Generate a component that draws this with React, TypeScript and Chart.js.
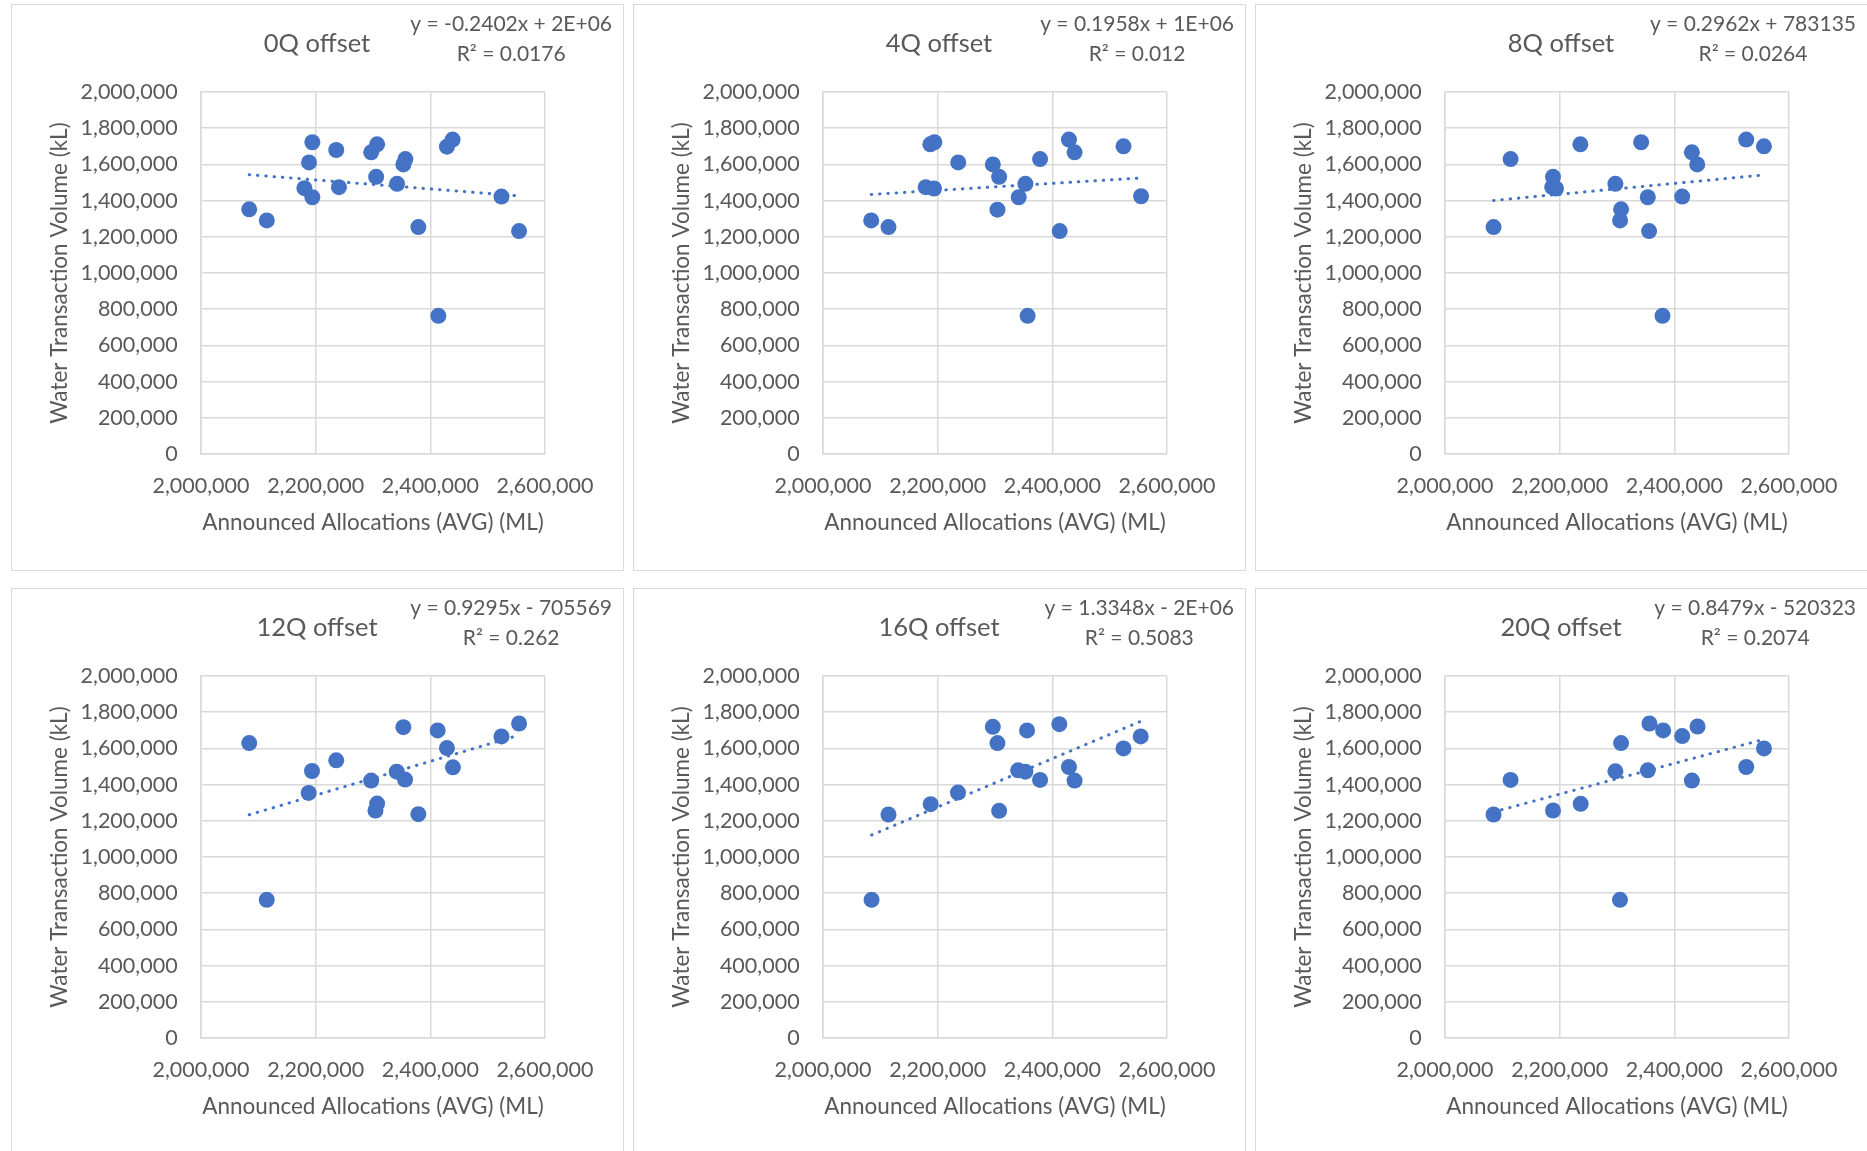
import React, { useEffect, useRef } from "react";
import { Chart, registerables } from "chart.js";

Chart.register(...registerables);

// ---------- data ----------
const X_MIN = 2000000;
const X_MAX = 2600000;
const X_STEP = 200000;
const Y_MIN = 0;
const Y_MAX = 2000000;
const Y_STEP = 200000;

const X_TITLE = "Announced Allocations (AVG) (ML)";
const Y_TITLE = "Water Transaction Volume (kL)";

const panelTitles = ["0Q offset", "4Q offset", "8Q offset", "12Q offset", "16Q offset", "20Q offset"];
const equations = [
  "y = -0.2402x + 2E+06",
  "y = 0.1958x + 1E+06",
  "y = 0.2962x + 783135",
  "y = 0.9295x - 705569",
  "y = 1.3348x - 2E+06",
  "y = 0.8479x - 520323",
];
const rSquared = ["R² = 0.0176", "R² = 0.012", "R² = 0.0264", "R² = 0.262", "R² = 0.5083", "R² = 0.2074"];

const alloc0Q = [2084100, 2114800, 2194200, 2188400, 2180300, 2194200, 2235900, 2240600, 2296800, 2307200, 2305500, 2342000, 2353000, 2356500, 2379100, 2414000, 2429000, 2438800, 2524100, 2554800];
const volume0Q = [1351900, 1290700, 1722200, 1611100, 1468500, 1418500, 1679600, 1474100, 1666700, 1711100, 1531500, 1492600, 1600000, 1629600, 1253700, 763600, 1698100, 1737000, 1422200, 1231500];

const alloc4Q = [2084100, 2114200, 2187200, 2194200, 2179100, 2193600, 2235900, 2296200, 2307200, 2304300, 2341400, 2353000, 2378600, 2356900, 2412800, 2429000, 2438800, 2524100, 2554800];
const volume4Q = [1290700, 1253700, 1711100, 1722200, 1474100, 1466700, 1611100, 1600000, 1531500, 1350000, 1418500, 1492600, 1629600, 763600, 1231500, 1737000, 1666700, 1700000, 1424100];

const alloc8Q = [2084700, 2114400, 2188400, 2187000, 2193600, 2236100, 2297200, 2307100, 2305400, 2342100, 2353700, 2356000, 2379400, 2413700, 2430600, 2439900, 2525400, 2556300];
const volume8Q = [1253700, 1629600, 1531500, 1474100, 1466700, 1711100, 1492600, 1351900, 1290700, 1722200, 1418500, 1231500, 763600, 1422200, 1666700, 1600000, 1737000, 1700000];

const alloc12Q = [2084100, 2114700, 2193600, 2187800, 2235900, 2296800, 2307200, 2304300, 2353000, 2341400, 2355900, 2379100, 2412800, 2429000, 2439400, 2524100, 2554800];
const volume12Q = [1629400, 763600, 1475200, 1354100, 1533900, 1422000, 1295400, 1256900, 1717400, 1471600, 1427500, 1236700, 1699100, 1601800, 1495400, 1666100, 1737600];

const alloc16Q = [2084700, 2114200, 2187800, 2235400, 2296200, 2304300, 2307200, 2340300, 2353000, 2355900, 2378600, 2412200, 2429000, 2438800, 2524100, 2554200];
const volume16Q = [763600, 1234900, 1291700, 1356000, 1719300, 1629400, 1255000, 1478900, 1471600, 1699100, 1425700, 1733900, 1497200, 1422000, 1600000, 1666100];

const alloc20Q = [2084700, 2114400, 2188400, 2236700, 2297200, 2307100, 2305200, 2353700, 2356600, 2380500, 2413700, 2430600, 2440500, 2525400, 2556300];
const volume20Q = [1234900, 1425700, 1256900, 1293600, 1473400, 1629400, 763600, 1478900, 1737600, 1699100, 1667900, 1422000, 1721100, 1497200, 1600000];

const allocSeries = [alloc0Q, alloc4Q, alloc8Q, alloc12Q, alloc16Q, alloc20Q];
const volumeSeries = [volume0Q, volume4Q, volume8Q, volume12Q, volume16Q, volume20Q];

// ---------- style ----------
const FONT = "Lato, 'Open Sans', sans-serif";
const TEXT_COLOR = "#595959";
const GRID_COLOR = "#d9d9d9";
const POINT_COLOR = "#4472C4";

const PANEL_W = 613;
const PANEL_H = 567;
const PANEL_LEFTS = [11, 633, 1255];
const PANEL_TOPS = [4, 588];

function regression(xs: number[], ys: number[]) {
  const n = xs.length;
  let sx = 0, sy = 0;
  for (let i = 0; i < n; i++) { sx += xs[i]; sy += ys[i]; }
  const mx = sx / n, my = sy / n;
  let sxy = 0, sxx = 0;
  for (let i = 0; i < n; i++) {
    sxy += (xs[i] - mx) * (ys[i] - my);
    sxx += (xs[i] - mx) * (xs[i] - mx);
  }
  const slope = sxy / sxx;
  const intercept = my - slope * mx;
  const x0 = Math.min(...xs);
  const x1 = Math.max(...xs);
  return [
    { x: x0, y: intercept + slope * x0 },
    { x: x1, y: intercept + slope * x1 },
  ];
}

function Panel({ index }: { index: number }) {
  const ref = useRef<HTMLCanvasElement | null>(null);

  useEffect(() => {
    if (!ref.current) return;
    const xs = allocSeries[index];
    const ys = volumeSeries[index];
    const points = xs.map((x, i) => ({ x, y: ys[i] }));
    const trend = regression(xs, ys);

    const textPlugin = {
      id: "panelText",
      afterDraw(chart: any) {
        const ctx = chart.ctx;
        ctx.save();
        ctx.fillStyle = TEXT_COLOR;
        ctx.textBaseline = "middle";
        ctx.textAlign = "center";
        ctx.font = `25.5px ${FONT}`;
        ctx.fillText(panelTitles[index], 306, 40);
        ctx.font = `21px ${FONT}`;
        const w = ctx.measureText(equations[index]).width;
        const cx = 601 - w / 2;
        ctx.fillText(equations[index], cx, 20);
        ctx.fillText(rSquared[index], cx, 50);
        ctx.restore();
      },
    };

    const tickFont = { family: FONT, size: 21.5, lineHeight: 1.2 };
    const titleFont = { family: FONT, size: 22.5, lineHeight: 1.2 };

    const chart = new Chart(ref.current, {
      type: "scatter",
      data: {
        datasets: [
          {
            type: "scatter",
            data: points,
            backgroundColor: POINT_COLOR,
            borderWidth: 0,
            pointRadius: 8,
            pointHoverRadius: 8,
            order: 0,
          },
          {
            type: "line",
            data: trend,
            borderColor: POINT_COLOR,
            borderWidth: 3,
            borderDash: [0.5, 7.8],
            borderCapStyle: "round",
            pointRadius: 0,
            fill: false,
            order: 1,
          },
        ],
      } as any,
      options: {
        responsive: false,
        animation: false,
        events: [],
        layout: { padding: { left: 0, right: 79, top: 88, bottom: 0 } },
        plugins: {
          legend: { display: false },
          title: { display: false },
          tooltip: { enabled: false },
        },
        scales: {
          x: {
            type: "linear",
            position: "bottom",
            min: X_MIN,
            max: X_MAX,
            ticks: {
              stepSize: X_STEP,
              color: TEXT_COLOR,
              font: tickFont,
              padding: 19.5,
              maxRotation: 0,
              autoSkip: false,
              callback: (v: any) => Number(v).toLocaleString("en-US"),
            },
            grid: { color: GRID_COLOR, lineWidth: 1.5, drawTicks: false },
            border: { display: true, color: GRID_COLOR, width: 1.5 },
            title: {
              display: true,
              text: X_TITLE,
              color: TEXT_COLOR,
              font: titleFont,
              padding: { top: 0, bottom: 34.5 },
            },
            afterFit: (s: any) => { s.height = 117; },
          },
          y: {
            type: "linear",
            min: Y_MIN,
            max: Y_MAX,
            ticks: {
              stepSize: Y_STEP,
              color: TEXT_COLOR,
              font: tickFont,
              padding: 23.4,
              callback: (v: any) => Number(v).toLocaleString("en-US"),
            },
            grid: { color: GRID_COLOR, lineWidth: 1.5, drawTicks: false },
            border: { display: true, color: GRID_COLOR, width: 1.5 },
            title: {
              display: true,
              text: Y_TITLE,
              color: TEXT_COLOR,
              font: titleFont,
              padding: { top: 35.5, bottom: 0 },
            },
            afterFit: (s: any) => { s.width = 190; },
          },
        },
      } as any,
      plugins: [textPlugin],
    });

    return () => chart.destroy();
  }, [index]);

  const col = index % 3;
  const row = Math.floor(index / 3);
  return (
    <div
      style={{
        position: "absolute",
        left: PANEL_LEFTS[col],
        top: PANEL_TOPS[row],
        width: PANEL_W,
        height: PANEL_H,
        background: "#ffffff",
      }}
    >
      <canvas ref={ref} width={PANEL_W} height={PANEL_H} style={{ position: "absolute", left: 0, top: 0 }} />
      <div
        style={{
          position: "absolute",
          left: 0,
          top: 0,
          width: PANEL_W,
          height: PANEL_H,
          border: `1.5px solid ${GRID_COLOR}`,
          boxSizing: "border-box",
          pointerEvents: "none",
        }}
      />
    </div>
  );
}

export default function App() {
  return (
    <div
      style={{
        position: "absolute",
        left: 0,
        top: 0,
        width: 1867,
        height: 1151,
        overflow: "hidden",
        background: "#ffffff",
      }}
    >
      {[0, 1, 2, 3, 4, 5].map((i) => (
        <Panel key={i} index={i} />
      ))}
    </div>
  );
}
